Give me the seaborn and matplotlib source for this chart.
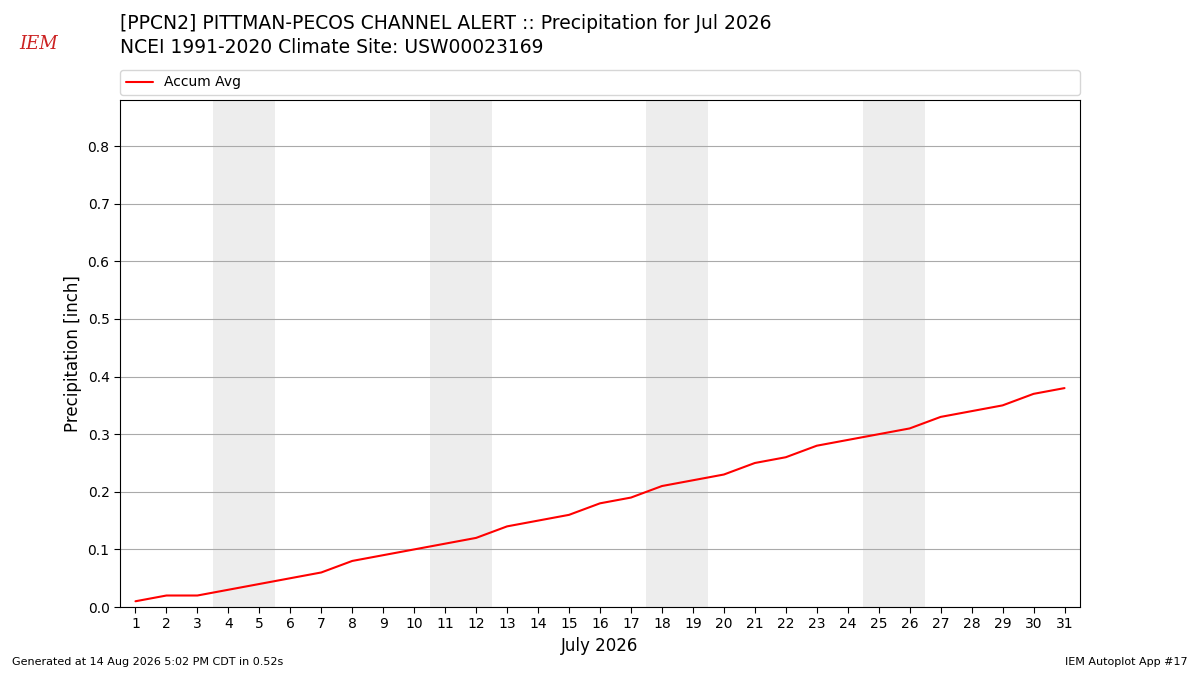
import pandas as pd
import matplotlib
matplotlib.use("Agg")
import matplotlib.pyplot as plt
import seaborn as sns

# daily accumulated average precipitation (inch), July
days = list(range(1, 32))
accum_avg = [0.01, 0.02, 0.02, 0.03, 0.04, 0.05, 0.06, 0.08, 0.09, 0.10,
             0.11, 0.12, 0.14, 0.15, 0.16, 0.18, 0.19, 0.21, 0.22, 0.23,
             0.25, 0.26, 0.28, 0.29, 0.30, 0.31, 0.33, 0.34, 0.35, 0.37,
             0.38]
weekend_starts = [4, 11, 18, 25]

df = pd.DataFrame({"day": days, "precip": accum_avg})

sns.set_style("white")
plt.rcParams["font.family"] = ["DejaVu Sans"]
plt.rcParams.update({"text.color": "black", "axes.labelcolor": "black",
                     "xtick.color": "black", "ytick.color": "black"})

fig = plt.figure(figsize=(12, 6.75), dpi=100)
ax = fig.add_axes([0.1, 0.1007, 0.8, 0.7511])

for d in weekend_starts:
    ax.axvspan(d - 0.5, d + 1.5, color="#ededed", zorder=0, lw=0)

sns.lineplot(data=df, x="day", y="precip", color="red", lw=1.5,
             label="Accum Avg", ax=ax, zorder=3)

ax.set_xlim(0.5, 31.5)
ax.set_ylim(0, 0.88)
ax.set_xticks(days)
ax.set_yticks([0, 0.1, 0.2, 0.3, 0.4, 0.5, 0.6, 0.7, 0.8])
ax.yaxis.grid(True, color="#aaaaaa", lw=0.8)
ax.set_axisbelow(True)
ax.tick_params(axis="both", labelsize=10, length=4, direction="out",
               bottom=True, left=True)
for s in ax.spines.values():
    s.set_color("black")
    s.set_linewidth(0.8)
ax.set_xlabel("July 2026", fontsize=12)
ax.set_ylabel("Precipitation [inch]", fontsize=12)

ax.legend(loc="lower left", bbox_to_anchor=(0, 1.01, 1, 0.05), mode="expand",
          ncol=1, fontsize=10, frameon=True, borderaxespad=0)

fig.text(0.1, 0.965, "[PPCN2] PITTMAN-PECOS CHANNEL ALERT :: Precipitation for Jul 2026",
         fontsize=13.5, va="center")
fig.text(0.1, 0.93, "NCEI 1991-2020 Climate Site: USW00023169",
         fontsize=13.5, va="center")
fig.text(0.032, 0.935, "IEM", color="#cc2222", fontsize=13, style="italic",
         family="serif", ha="center", va="center")
fig.text(0.01, 0.015, "Generated at 14 Aug 2026 5:02 PM CDT in 0.52s", fontsize=8)
fig.text(0.99, 0.015, "IEM Autoplot App #17", fontsize=8, ha="right")

fig.savefig("out.png", dpi=100)
